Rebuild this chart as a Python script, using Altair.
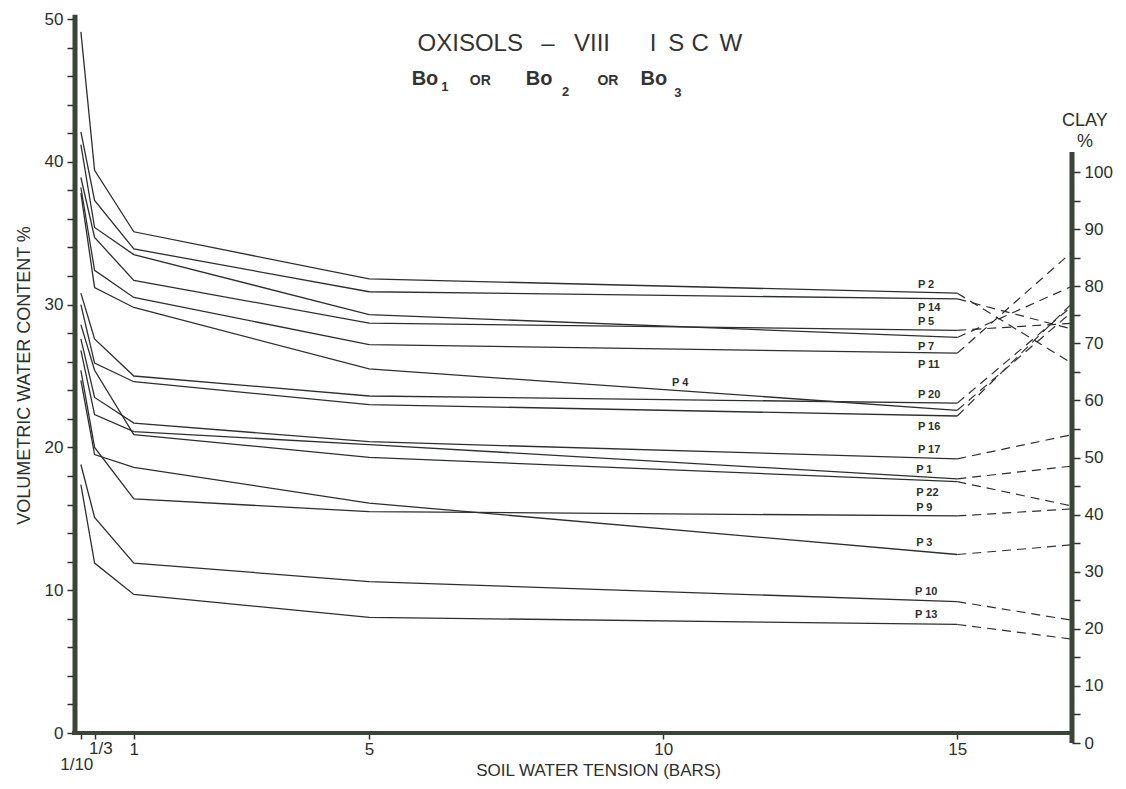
import altair as alt
import pandas as pd

# ---------------- data ----------------
TENSION = [0.1, 0.333, 1, 5, 15]          # bars
PROFILES = ["P2", "P14", "P7", "P5", "P11", "P4", "P20", "P16",
            "P22", "P17", "P1", "P9", "P3", "P10", "P13"]
P2 = [49.1, 39.4, 35.1, 31.8, 30.8]
P14 = [42.1, 37.3, 33.9, 30.9, 30.4]
P7 = [41.2, 35.4, 33.5, 29.3, 27.7]
P5 = [38.9, 34.7, 31.7, 28.7, 28.2]
P11 = [38.2, 32.4, 30.5, 27.2, 26.6]
P4 = [37.8, 31.2, 29.8, 25.5, 22.6]
P20 = [30.8, 27.6, 25.0, 23.6, 23.1]
P16 = [30.0, 25.9, 24.6, 23.0, 22.2]
P22 = [28.6, 25.4, 20.9, 19.3, 17.6]
P17 = [27.6, 23.5, 21.7, 20.4, 19.2]
P1 = [26.8, 22.3, 21.1, 20.2, 17.8]
P9 = [25.4, 20.0, 16.4, 15.5, 15.2]
P3 = [24.7, 19.5, 18.6, 16.1, 12.5]
P10 = [18.8, 15.1, 11.9, 10.6, 9.2]
P13 = [17.4, 11.9, 9.7, 8.1, 7.6]
SERIES = [P2, P14, P7, P5, P11, P4, P20, P16, P22, P17, P1, P9, P3, P10, P13]
CLAY = [66.5, 72.5, 80.0, 73.5, 86.0, 75.5, 76.5, 77.0,
        41.5, 54.0, 48.5, 41.0, 34.7, 21.5, 18.2]

LABEL_TEXT = ["P 2", "P 14", "P 5", "P 7", "P 11", "P 4", "P 20", "P 16",
              "P 17", "P 1", "P 22", "P 9", "P 3", "P 10", "P 13"]
LABEL_X = [14.33, 14.33, 14.33, 14.33, 14.33, 10.15, 14.33, 14.33,
           14.33, 14.3, 14.3, 14.3, 14.3, 14.28, 14.28]
LABEL_Y = [31.37, 29.78, 28.8, 27.05, 25.77, 24.51, 23.67, 21.45,
           19.82, 18.42, 16.79, 15.74, 13.33, 9.9, 8.26]

X_TICKS = [0.1, 0.333, 1, 5, 10, 15]
Y_TICKS = list(range(0, 51, 2))
CLAY_TICKS = list(range(0, 101, 5))

TITLE_TEXT = ["OXISOLS", "\u2013", "VIII", "I", "S", "C", "W"]
TITLE_X = [6.72, 8.04, 8.79, 9.83, 10.22, 10.63, 11.15]
SUB_TEXT = ["Bo", "1", "OR", "Bo", "2", "OR", "Bo", "3"]
SUB_X = [5.95, 6.29, 6.89, 7.89, 8.34, 9.06, 9.84, 10.25]
SUB_Y = [45.38, 44.95, 45.38, 45.38, 44.6, 45.38, 45.38, 44.55]
SUB_SIZE = [20, 13, 14, 20, 13, 14, 20, 13]

# ---------------- scales / style ----------------
Y_MIN, Y_MAX = -0.70, 50.0
CLAY_MIN, CLAY_MAX = 0.0, 126.8
X_MAX = 16.95
INK = "#2c302c"
BAR = "#3a4437"
FONT = "Liberation Sans"

xs = alt.Scale(domain=[0, X_MAX], nice=False, zero=False)
ys = alt.Scale(domain=[Y_MIN, Y_MAX], nice=False, zero=False)
cs = alt.Scale(domain=[CLAY_MIN, CLAY_MAX], nice=False, zero=False)


def clay_to_vwc(c):
    return Y_MIN + (c - CLAY_MIN) * (Y_MAX - Y_MIN) / (CLAY_MAX - CLAY_MIN)


rows = []
for name, vals in zip(PROFILES, SERIES):
    for t, v in zip(TENSION, vals):
        rows.append({"profile": name, "x": t, "y": v})
df = pd.DataFrame(rows)

dash_df = pd.DataFrame({
    "profile": PROFILES,
    "x": [15] * len(PROFILES),
    "y": [s[-1] for s in SERIES],
    "x2": [X_MAX] * len(PROFILES),
    "y2": [clay_to_vwc(c) for c in CLAY],
})

lab_df = pd.DataFrame({"t": LABEL_TEXT, "x": LABEL_X, "y": LABEL_Y})
title_df = pd.DataFrame({"t": TITLE_TEXT, "x": TITLE_X, "y": [47.76] * len(TITLE_TEXT)})
sub_df = pd.DataFrame({"t": SUB_TEXT, "x": SUB_X, "y": SUB_Y, "s": SUB_SIZE})
misc_df = pd.DataFrame({"t": ["CLAY", "%", "1/10", "1/3"],
                        "x": [17.17, 17.17, 0.03, 0.44],
                        "y": [42.5, 41.05, -2.6, -1.5],
                        "s": [18, 18, 17, 17]})

X_TITLE = "SOIL WATER TENSION (BARS)"
Y_TITLE = "VOLUMETRIC WATER CONTENT %"

x_axis = alt.Axis(values=X_TICKS,
                  labelExpr="datum.value < 0.5 ? '' : datum.label",
                  domain=False, tickSize=6, tickWidth=1.5, tickColor=INK,
                  labelFontSize=17, labelColor=INK, labelFont=FONT,
                  labelFlush=False, labelOverlap=False, labelPadding=2,
                  offset=-10, grid=False,
                  title=X_TITLE, titleFontSize=17,
                  titleFontWeight="normal", titleFont=FONT, titleColor=INK,
                  titleX=523, titleY=37, titleBaseline="middle")

y_axis = alt.Axis(values=Y_TICKS,
                  labelExpr="datum.value % 10 == 0 ? datum.label : ''",
                  domain=False, tickSize=8, tickWidth=1.5, tickColor=INK,
                  labelFontSize=17, labelColor=INK, labelFont=FONT,
                  labelPadding=4, labelOverlap=False, grid=False,
                  title=Y_TITLE, titleFontSize=18,
                  titleFontWeight="normal", titleFont=FONT, titleColor=INK,
                  titleX=-51, titleY=356, titleAngle=270, titleBaseline="middle")


def X(field="x"):
    return alt.X(f"{field}:Q", scale=xs, axis=x_axis, title=X_TITLE)


def Y(field="y"):
    return alt.Y(f"{field}:Q", scale=ys, axis=y_axis, title=Y_TITLE)


lines = alt.Chart(df).mark_line(color=INK, strokeWidth=1.3).encode(
    x=X(), y=Y(), detail="profile:N", order="x:Q",
)

dashed = alt.Chart(dash_df).mark_rule(color=INK, strokeWidth=1.2, strokeDash=[9, 6]).encode(
    x=X(), y=Y(), x2="x2:Q", y2="y2:Q",
)

labels = alt.Chart(lab_df).mark_text(align="left", baseline="middle", fontSize=11,
                                     fontWeight="bold", font=FONT, color=INK).encode(
    x=X(), y=Y(), text="t:N",
)

title = alt.Chart(title_df).mark_text(align="center", baseline="alphabetic", fontSize=24,
                                      font=FONT, color="#333333").encode(
    x=X(), y=Y(), text="t:N",
)

subtitle = alt.Chart(sub_df).mark_text(align="center", baseline="alphabetic",
                                       fontWeight="bold", font=FONT, color="#333333").encode(
    x=X(), y=Y(), size=alt.Size("s:Q", scale=None), text="t:N",
)

misc = alt.Chart(misc_df).mark_text(align="center", baseline="alphabetic",
                                    font=FONT, color=INK).encode(
    x=X(), y=Y(), size=alt.Size("s:Q", scale=None), text="t:N",
)

bars_df = pd.DataFrame({"x": [0.0, -0.05], "x2": [0.0, X_MAX],
                        "y": [-0.1, 0.0], "y2": [50.3, 0.0], "w": [5, 4]})
bars = alt.Chart(bars_df).mark_rule(color=BAR).encode(
    x=X(), x2="x2:Q", y=Y(), y2="y2:Q",
    strokeWidth=alt.StrokeWidth("w:Q", scale=None),
)

left = alt.layer(lines, dashed, labels, title, subtitle, misc, bars)

clay_df = pd.DataFrame({"x": [X_MAX], "c": [0.0], "c2": [103.5]})
right = alt.Chart(clay_df).mark_rule(color=BAR, strokeWidth=5).encode(
    x=X(),
    y=alt.Y("c:Q", scale=cs,
            axis=alt.Axis(orient="right", values=CLAY_TICKS,
                          labelExpr="datum.value % 10 == 0 ? datum.label : ''",
                          domain=False, tickSize=8, tickWidth=1.5, tickColor=INK,
                          labelFontSize=17, labelColor=INK, labelFont=FONT,
                          labelPadding=4, labelOverlap=False, grid=False, title=None)),
    y2="c2:Q",
)

chart = alt.layer(left, right).resolve_scale(y="independent").properties(
    width=997, height=724,
    padding={"left": 67, "top": 11, "right": 42, "bottom": 38},
    autosize=alt.AutoSizeParams(type="none"),
    background="white",
).configure_view(stroke=None)

chart.save("out.html", embed_options={"renderer": "svg", "actions": False})
